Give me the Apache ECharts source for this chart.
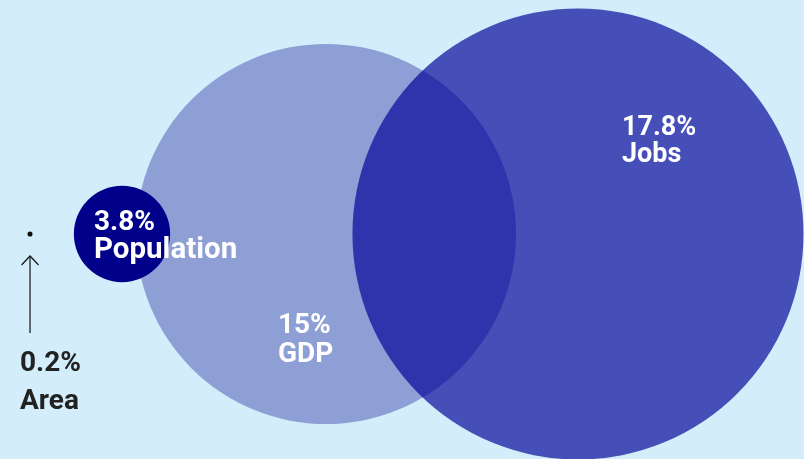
<!DOCTYPE html>
<html>
<head>
<meta charset="utf-8">
<script src="https://cdn.jsdelivr.net/npm/echarts@6/dist/echarts.min.js"></script>
<style>
html,body{margin:0;padding:0;background:#d3eefa;}
#chart{width:804px;height:459px;}
</style>
</head>
<body>
<div id="chart"></div>
<script>
// ---- data ----
const categories = ['Area', 'Population', 'GDP', 'Jobs'];
const values = [0.2, 3.8, 15, 17.8];           // share (%) — circle radius proportional to value
const labels = ['0.2%', '3.8%', '15%', '17.8%'];

// ---- layout (data units, radius unit = 1%) ----
const centersX = [2.37, 9.63, 25.73, 45.62];
const centerY = 17.76;
const fills = ['#111111', '#00008b', 'rgba(0,0,139,0.33)', 'rgba(0,0,150,0.67)'];
// label offsets in px relative to circle center: [x, y line1, y line2], font sizes, colour
const labelPos = [
  [-10, 130, 168],
  [-28, -11, 17],
  [-48, 92, 121.5],
  [44, -106, -78.5]
];
const labelSizes = [[28, 28], [28, 29.5], [28, 28], [27, 27]];
const labelColors = ['#222222', '#ffffff', '#ffffff', '#ffffff'];

const drawOrder = [2, 3, 1, 0];
const seriesData = drawOrder.map(i => [centersX[i], centerY, values[i], i]);

const chart = echarts.init(document.getElementById('chart'));
chart.setOption({
  backgroundColor: '#d3eefa',
  animation: false,
  grid: {left: 0, right: 0, top: 0, bottom: 0},
  xAxis: {type: 'value', min: 0, max: 63.46, show: false},
  yAxis: {type: 'value', min: 0, max: 36.23, show: false},
  series: [{
    type: 'custom',
    data: seriesData,
    renderItem: function (params, api) {
      const idx = api.value(3);
      const c = api.coord([api.value(0), api.value(1)]);
      const r = api.size([api.value(2), api.value(2)])[0];
      const lp = labelPos[idx];
      const children = [{
        type: 'circle',
        shape: {cx: c[0], cy: c[1], r: r},
        style: {fill: fills[idx]}
      }, {
        type: 'text',
        style: {
          text: labels[idx], x: c[0] + lp[0], y: c[1] + lp[1],
          fill: labelColors[idx], font: 'bold ' + labelSizes[idx][0] + 'px Roboto',
          textAlign: 'left', textVerticalAlign: 'middle'
        }
      }, {
        type: 'text',
        style: {
          text: categories[idx], x: c[0] + lp[0], y: c[1] + lp[2],
          fill: labelColors[idx], font: 'bold ' + labelSizes[idx][1] + 'px Roboto',
          textAlign: 'left', textVerticalAlign: 'middle'
        }
      }];
      if (idx === 0) {
        children.push({
          type: 'line',
          shape: {x1: c[0], y1: c[1] + 99, x2: c[0], y2: c[1] + 22},
          style: {stroke: '#111', lineWidth: 1.2}
        }, {
          type: 'polyline',
          shape: {points: [[c[0] - 8.5, c[1] + 31], [c[0], c[1] + 22], [c[0] + 8.5, c[1] + 31]]},
          style: {stroke: '#111', lineWidth: 1.2, fill: null}
        });
      }
      return {type: 'group', children: children};
    }
  }]
});
</script>
</body>
</html>
